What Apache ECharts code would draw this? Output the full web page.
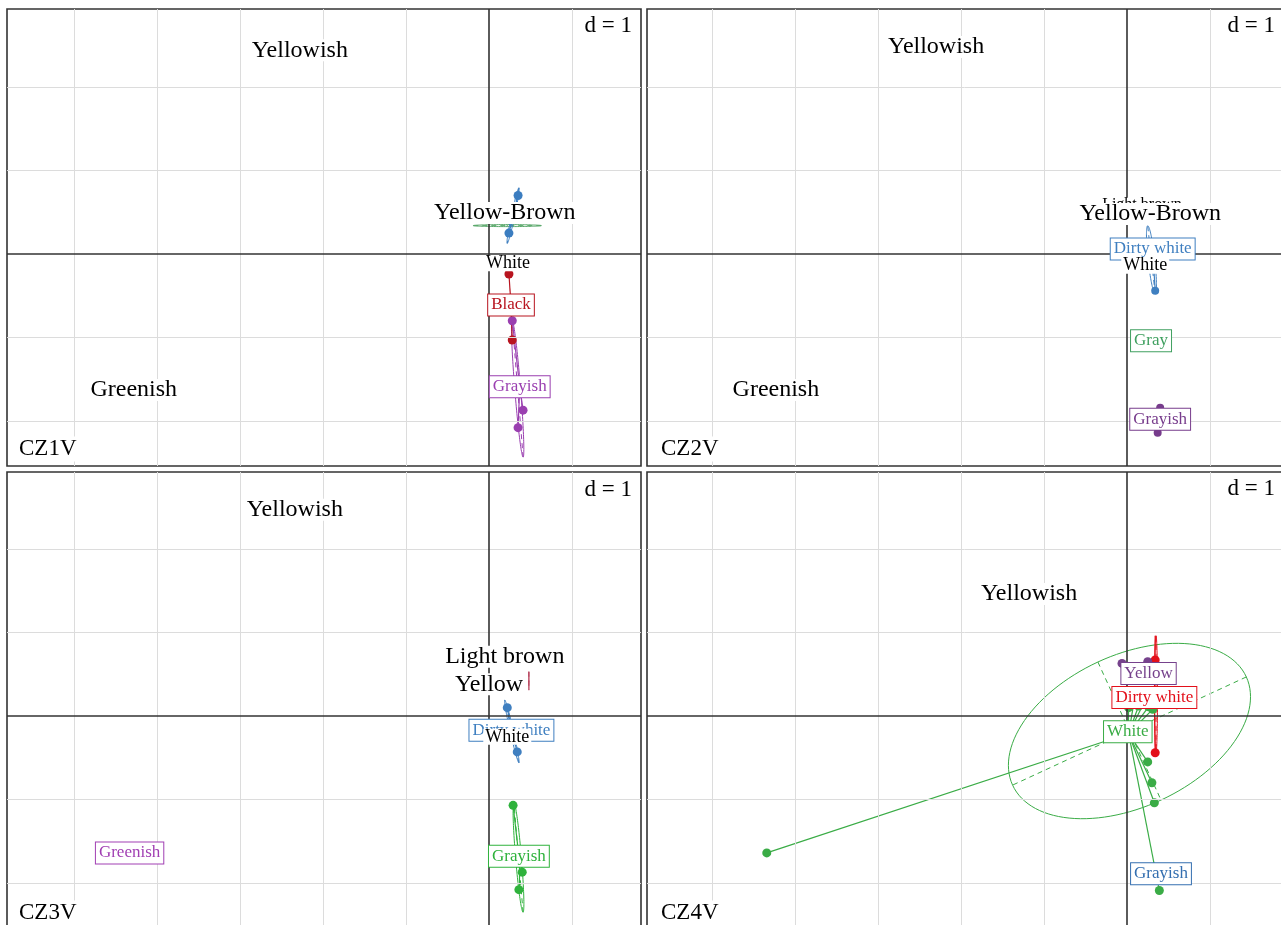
<!DOCTYPE html>
<html>
<head>
<meta charset="utf-8">
<script src="https://cdn.jsdelivr.net/npm/echarts@6/dist/echarts.min.js"></script>
<style>
  html, body { margin: 0; padding: 0; background: #fff; }
  #chart { width: 1281px; height: 925px; }
</style>
</head>
<body>
<div id="chart"></div>
<script>
// Discriminant maps of colour classes, four sites, one unit grid (d = 1)
const panelTitles = ['CZ1V', 'CZ2V', 'CZ3V', 'CZ4V'];
const scaleNote = 'd = 1';
const gridX = [-5, -4, -3, -2, -1, 1];
const gridY = [-2, -1, 1, 2];

// CZ1V  -- labels [name, x, y], centres [class, x, y], individuals [class, x, y],
//          ellipses [class, cx, cy, a, b, angleDeg]
const cz1vPlain = [['Yellowish', -2.28, 2.44], ['Greenish', -4.28, -1.63], ['Yellow-Brown', 0.19, 0.49], ['White', 0.23, -0.11]];
const cz1vBoxed = [['Black', 0.265, -0.61], ['Grayish', 0.37, -1.59]];
const cz1vCentres = [['Yellow-Brown', 0.29, 0.47], ['Black', 0.265, -0.61], ['Grayish', 0.37, -1.59]];
const cz1vPoints = [['Yellow-Brown', 0.35, 0.70], ['Yellow-Brown', 0.24, 0.25], ['Black', 0.24, -0.24], ['Black', 0.28, -1.03],
  ['Grayish', 0.28, -0.80], ['Grayish', 0.41, -1.87], ['Grayish', 0.35, -2.08]];
const cz1vEllipses = [['Greenish', 0.22, 0.34, 0.41, 0.012, 0], ['Yellow-Brown', 0.29, 0.46, 0.34, 0.02, 78],
  ['Grayish', 0.345, -1.615, 0.82, 0.035, -85.4]];

// CZ2V
const cz2vPlain = [['Yellowish', -2.30, 2.48], ['Greenish', -4.23, -1.63], ['Light brown', 0.18, 0.59], ['Yellow-Brown', 0.28, 0.48], ['White', 0.22, -0.14]];
const cz2vBoxed = [['Dirty white', 0.31, 0.06], ['Gray', 0.29, -1.04], ['Grayish', 0.40, -1.98]];
const cz2vCentres = [['Dirty white', 0.31, 0.06], ['Grayish', 0.40, -1.98]];
const cz2vPoints = [['Dirty white', 0.34, -0.44], ['Grayish', 0.40, -1.84], ['Grayish', 0.37, -2.14]];
const cz2vEllipses = [['Dirty white', 0.295, -0.07, 0.41, 0.04, -83.7]];

// CZ3V
const cz3vPlain = [['Yellowish', -2.34, 2.47], ['Light brown', 0.19, 0.71], ['Yellow', 0.0, 0.38], ['White', 0.22, -0.25]];
const cz3vBoxed = [['Greenish', -4.33, -1.64], ['Dirty white', 0.27, -0.17], ['Grayish', 0.36, -1.68]];
const cz3vCentres = [['Dirty white', 0.27, -0.17], ['Grayish', 0.36, -1.68]];
const cz3vPoints = [['Dirty white', 0.22, 0.10], ['Dirty white', 0.34, -0.43], ['Grayish', 0.29, -1.07], ['Grayish', 0.40, -1.87], ['Grayish', 0.36, -2.08]];
const cz3vEllipses = [['Yellow', 0.48, 0.42, 0.11, 0.004, 90], ['Dirty white', 0.275, -0.185, 0.385, 0.02, -77.2],
  ['Grayish', 0.355, -1.695, 0.657, 0.035, -85.2]];

// CZ4V
const cz4vPlain = [['Yellowish', -1.18, 1.46]];
const cz4vBoxed = [['Yellow', 0.26, 0.51], ['Dirty white', 0.33, 0.22], ['White', 0.01, -0.19], ['Grayish', 0.41, -1.89]];
const cz4vCentres = [['Yellow', 0.26, 0.51], ['Dirty white', 0.33, 0.22], ['White', 0.02, -0.21], ['Grayish', 0.41, -1.89]];
const cz4vPoints = [['White', -4.34, -1.64], ['White', 0.25, -0.55], ['White', 0.30, -0.80], ['White', 0.33, -1.04], ['White', 0.39, -2.09],
  ['White', 0.02, 0.10], ['White', 0.08, 0.14], ['White', 0.14, 0.12], ['White', 0.20, 0.15], ['White', 0.26, 0.11], ['White', 0.31, 0.08],
  ['Dirty white', 0.34, 0.67], ['Dirty white', 0.34, -0.44], ['Dirty white', 0.34, 0.96], ['Yellow', 0.25, 0.65], ['Yellow', -0.06, 0.63]];
const cz4vEllipses = [['White', 0.03, -0.18, 1.55, 0.91, 24.7], ['Dirty white', 0.35, 0.26, 0.70, 0.018, 90]];

// ---- styling ----
const SERIF = '"Liberation Serif", "Times New Roman", serif';
const palettes = [
  { 'Yellow-Brown': '#3b7dc0', 'Black': '#b8141f', 'Grayish': '#9a3fb0', 'Greenish': '#5aa86b' },
  { 'Dirty white': '#3f7fc0', 'Gray': '#40a060', 'Grayish': '#773c8c' },
  { 'Greenish': '#a13fb3', 'Dirty white': '#3f7fc0', 'Grayish': '#2fb23c', 'Yellow': '#b8405a' },
  { 'Yellow': '#76428c', 'Dirty white': '#e3101a', 'White': '#3aac46', 'Grayish': '#346fb0' }
];
const smallPlain = [{ 'White': 18 }, { 'White': 18, 'Light brown': 16 }, { 'White': 18 }, {}];
const pointSize = [9, 8, 9, 9];

const frames = [
  { left: 7, top: 9, width: 634, height: 457, xr: [-5.807, 1.831], yr: [-2.539, 2.934] },
  { left: 647, top: 9, width: 636, height: 457, xr: [-5.783, 1.880], yr: [-2.539, 2.934] },
  { left: 7, top: 472, width: 634, height: 456, xr: [-5.807, 1.831], yr: [-2.539, 2.922] },
  { left: 647, top: 472, width: 636, height: 456, xr: [-5.783, 1.880], yr: [-2.539, 2.922] }
];

function ellipseShape(api, color) {
  const cx = api.value(0), cy = api.value(1), a = api.value(2), b = api.value(3);
  const ang = api.value(4) * Math.PI / 180;
  const ca = Math.cos(ang), sa = Math.sin(ang);
  const at = (u, v) => api.coord([cx + u * ca - v * sa, cy + u * sa + v * ca]);
  const pts = [];
  for (let k = 0; k <= 120; k++) {
    const t = k / 120 * 2 * Math.PI;
    pts.push(at(a * Math.cos(t), b * Math.sin(t)));
  }
  const A1 = at(a, 0), A2 = at(-a, 0), B1 = at(0, b), B2 = at(0, -b);
  return {
    type: 'group',
    children: [
      { type: 'polyline', shape: { points: pts }, style: { stroke: color, fill: null, lineWidth: 1, opacity: 1 } },
      { type: 'line', shape: { x1: A1[0], y1: A1[1], x2: A2[0], y2: A2[1] }, style: { stroke: color, lineWidth: 1, lineDash: [5, 4] } },
      { type: 'line', shape: { x1: B1[0], y1: B1[1], x2: B2[0], y2: B2[1] }, style: { stroke: color, lineWidth: 1, lineDash: [5, 4] } }
    ]
  };
}

function panelSeries(i, plain, boxed, centres, points, ellipses) {
  const colors = palettes[i];
  const sizes = smallPlain[i];
  const ax = { xAxisIndex: i, yAxisIndex: i };
  const axisStyle = { color: '#333', width: 1.6, type: 'solid' };
  const clear = { color: 'rgba(0,0,0,0)', opacity: 1 };
  const out = [];
  // reference grid and the two principal axes
  out.push({
    type: 'scatter', ...ax, z: 1, silent: true, symbolSize: 0, data: [[0, 0]],
    markLine: {
      silent: true, symbol: ['none', 'none'], animation: false,
      label: { show: false }, emphasis: { disabled: true },
      lineStyle: { color: '#dcdcdc', width: 1, type: 'solid', opacity: 1 },
      data: gridX.map(v => ({ xAxis: v })).concat(gridY.map(v => ({ yAxis: v })))
        .concat([{ xAxis: 0, lineStyle: axisStyle }, { yAxis: 0, lineStyle: axisStyle }])
    }
  });
  // inertia ellipses with their dashed axes
  out.push({
    type: 'custom', ...ax, z: 2, silent: true, clip: true,
    encode: { x: 0, y: 1 },
    data: ellipses.map(e => [e[1], e[2], e[3], e[4], e[5]]),
    renderItem: (params, api) => ellipseShape(api, colors[ellipses[params.dataIndex][0]])
  });
  // stars from class centres to individuals
  const centreOf = {};
  centres.forEach(c => { centreOf[c[0]] = [c[1], c[2]]; });
  out.push({
    type: 'lines', coordinateSystem: 'cartesian2d', ...ax, z: 3, silent: true,
    lineStyle: { width: 1.2, opacity: 1 },
    data: points.filter(p => centreOf[p[0]]).map(p => ({
      coords: [centreOf[p[0]], [p[1], p[2]]], lineStyle: { color: colors[p[0]], width: 1.2, opacity: 1 }
    }))
  });
  // individuals (the far tip of a star may carry no dot)
  out.push({
    type: 'scatter', ...ax, z: 4, silent: true, symbolSize: pointSize[i],
    data: points.filter(p => !(i === 3 && p[2] > 0.9)).map(p => ({ value: [p[1], p[2]], itemStyle: { color: colors[p[0]], opacity: 1 } }))
  });
  // boxed class labels
  out.push({
    type: 'scatter', ...ax, z: 5, silent: true, symbolSize: 1,
    itemStyle: clear,
    label: {
      show: true, position: 'inside', formatter: '{b}', fontFamily: SERIF, fontSize: 17, lineHeight: 19,
      backgroundColor: '#fff', borderWidth: 1, padding: [1, 3], opacity: 1, textBorderWidth: 0
    },
    data: boxed.map(b => ({ name: b[0], value: [b[1], b[2]], label: { color: colors[b[0]], borderColor: colors[b[0]] } }))
  });
  // plain class labels
  out.push({
    type: 'scatter', ...ax, z: 6, silent: true, symbolSize: 1,
    itemStyle: clear,
    label: {
      show: true, position: 'inside', formatter: '{b}', fontFamily: SERIF, fontSize: 24, lineHeight: 22,
      color: '#000', backgroundColor: '#fff', padding: [0, 2], opacity: 1, textBorderWidth: 0
    },
    data: plain.map(p => {
      const fs = sizes[p[0]] || 24;
      return { name: p[0], value: [p[1], p[2]], label: { fontSize: fs, lineHeight: fs - 2 } };
    })
  });
  return out;
}

const series = [].concat(
  panelSeries(0, cz1vPlain, cz1vBoxed, cz1vCentres, cz1vPoints, cz1vEllipses),
  panelSeries(1, cz2vPlain, cz2vBoxed, cz2vCentres, cz2vPoints, cz2vEllipses),
  panelSeries(2, cz3vPlain, cz3vBoxed, cz3vCentres, cz3vPoints, cz3vEllipses),
  panelSeries(3, cz4vPlain, cz4vBoxed, cz4vCentres, cz4vPoints, cz4vEllipses)
);

const titleSpots = [[17, 449], [659, 449], [17, 913], [659, 913]];
const noteSpots = [[634, 26], [1277, 26], [634, 490], [1277, 489]];
const graphic = [];
panelTitles.forEach((t, i) => {
  graphic.push({
    type: 'text', x: titleSpots[i][0], y: titleSpots[i][1], z: 100, silent: true,
    style: { text: t, fontFamily: SERIF, fontSize: 23, fill: '#000', verticalAlign: 'middle', backgroundColor: '#fff', padding: [1, 2] }
  });
  graphic.push({
    type: 'text', x: noteSpots[i][0], y: noteSpots[i][1], z: 100, silent: true,
    style: { text: scaleNote, fontFamily: SERIF, fontSize: 23, fill: '#000', align: 'right', verticalAlign: 'middle', backgroundColor: '#fff', padding: [1, 2] }
  });
});

const chart = echarts.init(document.getElementById('chart'), null, { renderer: 'canvas' });
chart.setOption({
  animation: false,
  backgroundColor: '#fff',
  grid: frames.map(f => ({
    left: f.left, top: f.top, width: f.width, height: f.height,
    show: true, borderColor: '#333', borderWidth: 1.6, backgroundColor: '#fff',
    containLabel: false, outerBoundsMode: 'none'
  })),
  xAxis: frames.map((f, i) => ({ type: 'value', gridIndex: i, min: f.xr[0], max: f.xr[1], show: false, splitLine: { show: false } })),
  yAxis: frames.map((f, i) => ({ type: 'value', gridIndex: i, min: f.yr[0], max: f.yr[1], show: false, splitLine: { show: false } })),
  tooltip: { show: false },
  series: series,
  graphic: graphic
});
</script>
</body>
</html>
